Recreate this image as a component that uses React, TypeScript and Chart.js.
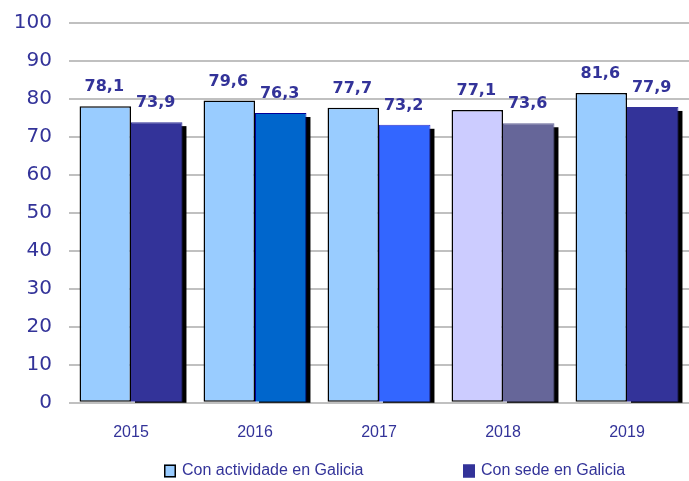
import React, { useEffect, useRef } from "react";
import { Chart, registerables } from "chart.js";

Chart.register(...registerables);

const years = ["2015", "2016", "2017", "2018", "2019"];
const actividade = [78.1, 79.6, 77.7, 77.1, 81.6];
const sede = [73.9, 76.3, 73.2, 73.6, 77.9];
const actividadeColors = ["#99CCFF", "#99CCFF", "#99CCFF", "#CCCCFF", "#99CCFF"];
const sedeColors = ["#333399", "#0066CC", "#3366FF", "#666699", "#333399"];
const sedeBorders = ["#333399", "#000099", "#3333CC", "#666699", "#333399"];
const seriesNames = ["Con actividade en Galicia", "Con sede en Galicia"];
const yTicks = [0, 10, 20, 30, 40, 50, 60, 70, 80, 90, 100];

const TEXT = "#333399";

const shadowPlugin = {
  id: "shadow",
  beforeDatasetsDraw(chart: any) {
    const ctx = chart.ctx;
    const meta = chart.getDatasetMeta(1);
    ctx.save();
    ctx.fillStyle = "#000000";
    meta.data.forEach((bar: any) => {
      const w = bar.width;
      const left = bar.x - w / 2;
      const top = bar.y;
      const h = bar.base - bar.y;
      ctx.fillRect(left + 4, top + 4, w, h - 3);
    });
    ctx.restore();
  },
};

const labelPlugin = {
  id: "valueLabels",
  afterDatasetsDraw(chart: any) {
    const ctx = chart.ctx;
    ctx.save();
    ctx.font = "bold 16px 'DejaVu Sans'";
    ctx.fillStyle = TEXT;
    ctx.textAlign = "center";
    ctx.textBaseline = "middle";
    chart.data.datasets.forEach((ds: any, di: number) => {
      const meta = chart.getDatasetMeta(di);
      meta.data.forEach((bar: any, i: number) => {
        const v = ds.data[i] as number;
        ctx.fillText(v.toFixed(1).replace(".", ","), bar.x - 1, bar.y - 19);
      });
    });
    ctx.restore();
  },
};

const legendPlugin = {
  id: "customLegend",
  afterDraw(chart: any) {
    const ctx = chart.ctx;
    ctx.save();
    ctx.font = "16px 'Liberation Sans'";
    ctx.textBaseline = "middle";
    ctx.textAlign = "left";
    const y = 471;
    const starts = [164, 463];
    const fills = ["#99CCFF", "#333399"];
    const strokes = ["#000000", "#333399"];
    seriesNames.forEach((name, i) => {
      const x = starts[i];
      ctx.fillStyle = fills[i];
      ctx.fillRect(x, y - 6.5, 12, 13);
      ctx.strokeStyle = strokes[i];
      ctx.lineWidth = 1.5;
      ctx.strokeRect(x + 0.75, y - 5.75, 10.5, 11.5);
      ctx.fillStyle = TEXT;
      ctx.fillText(name, x + 18, y);
    });
    ctx.restore();
  },
};

export default function App() {
  const ref = useRef<HTMLCanvasElement>(null);
  useEffect(() => {
    if (!ref.current) return;
    const chart = new Chart(ref.current, {
      type: "bar",
      data: {
        labels: years,
        datasets: [
          {
            label: seriesNames[0],
            data: actividade,
            backgroundColor: actividadeColors,
            borderColor: "#000000",
            borderWidth: 1.5,
            borderSkipped: false,
            categoryPercentage: 0.83,
            barPercentage: 1,
          },
          {
            label: seriesNames[1],
            data: sede,
            backgroundColor: sedeColors,
            borderColor: sedeBorders,
            borderWidth: 1,
            borderSkipped: "bottom",
            categoryPercentage: 0.83,
            barPercentage: 1,
          },
        ],
      },
      options: {
        responsive: false,
        animation: false,
        layout: { padding: { left: 0, right: 0, top: 23, bottom: 19 } },
        plugins: {
          legend: { display: false },
          tooltip: { enabled: false },
        },
        scales: {
          x: {
            grid: { display: false, drawTicks: false },
            border: { display: false },
            ticks: {
              padding: 20,
              color: TEXT,
              font: { family: "'Liberation Sans'", size: 16 },
            },
          },
          y: {
            min: 0,
            max: 100,
            afterFit(scale: any) {
              scale.width = 69;
              scale.paddingTop = 0;
              scale.paddingBottom = 0;
            },
            afterBuildTicks(scale: any) {
              scale.ticks = yTicks.map((v) => ({ value: v }));
            },
            grid: { color: "#C0C0C0", lineWidth: 2, drawTicks: false },
            border: { display: false },
            ticks: {
              padding: 17,
              color: TEXT,
              font: { family: "'DejaVu Sans'", size: 20 },
            },
          },
        },
      },
      plugins: [shadowPlugin, labelPlugin, legendPlugin],
    });
    return () => chart.destroy();
  }, []);
  return (
    <div style={{ position: "absolute", left: 0, top: 0, width: 689, height: 481, background: "#ffffff" }}>
      <canvas ref={ref} width={689} height={481} />
    </div>
  );
}
